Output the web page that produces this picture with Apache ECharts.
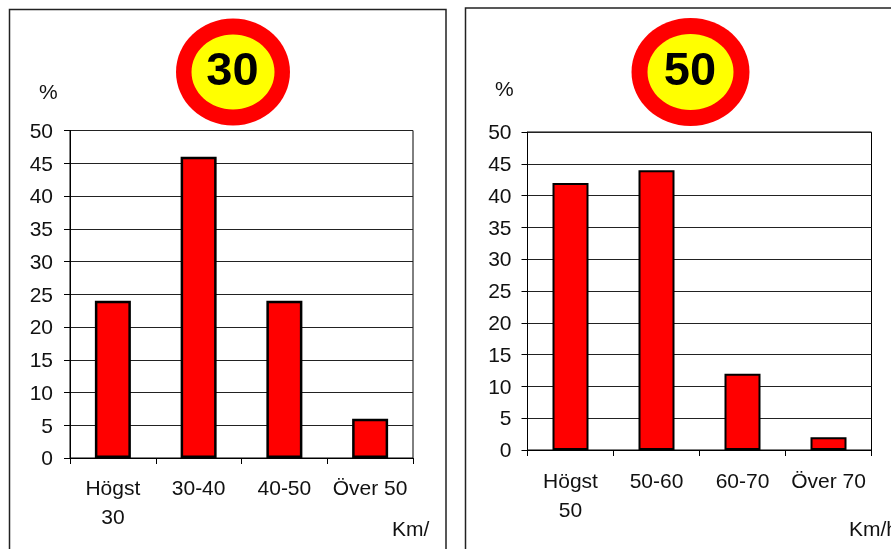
<!DOCTYPE html>
<html>
<head>
<meta charset="utf-8">
<style>html,body{margin:0;padding:0;background:#fff}#chart{width:891px;height:549px}</style>
<script src="https://cdn.jsdelivr.net/npm/echarts@6/dist/echarts.min.js"></script>
</head>
<body>
<div id="chart"></div>
<script>
// Speed distribution on 30 and 50 km/h streets
const categories30 = ['Högst\n30', '30-40', '40-50', 'Över 50'];
const values30 = [24, 46, 24, 6];
const categories50 = ['Högst\n50', '50-60', '60-70', 'Över 70'];
const values50 = [42, 44, 12, 2];
const FONT = '"Liberation Sans", Arial, sans-serif';
const FS = 21;

function sign(cx, cy, rx, ry, irx, iry, label) {
  return [
    { type: 'ellipse', shape: { cx, cy, rx, ry }, style: { fill: '#ff0000' } },
    { type: 'ellipse', shape: { cx, cy, rx: irx, ry: iry }, style: { fill: '#ffff00' } },
    { type: 'text', x: cx - 0.5, y: cy, style: { text: label, font: 'bold 47px ' + FONT, fill: '#000', align: 'center', verticalAlign: 'middle' } }
  ];
}
function note(x, y, text) {
  return { type: 'text', x, y, style: { text, font: '21px ' + FONT, fill: '#111', align: 'left', verticalAlign: 'middle' } };
}
function panel(x, y, w, h) {
  return { type: 'rect', shape: { x, y, width: w, height: h }, style: { fill: 'none', stroke: '#222', lineWidth: 1.5 } };
}
function xAxis(gridIndex, data, margin) {
  return {
    type: 'category', gridIndex, data,
    axisLine: { lineStyle: { color: '#000', width: 1 } },
    axisTick: { show: true, length: 6, alignWithLabel: false, lineStyle: { color: '#000' } },
    axisLabel: { color: '#111', fontFamily: FONT, fontSize: FS, margin, lineHeight: 28.5, interval: 0 }
  };
}
function yAxis(gridIndex, margin) {
  return {
    type: 'value', gridIndex, min: 0, max: 50, interval: 5,
    axisLine: { show: true, lineStyle: { color: '#000', width: 1 } },
    axisTick: { show: true, length: 6, lineStyle: { color: '#000' } },
    axisLabel: {
      margin,
      formatter: '{tick|{value}}',
      rich: { tick: { color: '#111', fontFamily: FONT, fontSize: FS, padding: [3, 0, 0, 0] } }
    },
    splitLine: { show: true, lineStyle: { color: '#222', width: 1 } }
  };
}
function bars(index, data, bw) {
  return {
    type: 'bar', xAxisIndex: index, yAxisIndex: index, data, barWidth: 36, silent: true,
    itemStyle: { color: '#ff0000', borderColor: '#000', borderWidth: bw }
  };
}

const chart = echarts.init(document.getElementById('chart'), null, { renderer: 'canvas' });
chart.setOption({
  animation: false,
  backgroundColor: '#fff',
  grid: [
    { left: 70, top: 130.5, width: 343, height: 327.5, show: true, borderColor: '#000', borderWidth: 1, backgroundColor: 'transparent' },
    { left: 527.5, top: 132, width: 344, height: 318, show: true, borderColor: '#000', borderWidth: 1, backgroundColor: 'transparent' }
  ],
  xAxis: [xAxis(0, categories30, 17), xAxis(1, categories50, 18)],
  yAxis: [yAxis(0, 17), yAxis(1, 16)],
  series: [bars(0, values30, 2.5), bars(1, values50, 2)],
  graphic: [
    panel(9.5, 9.5, 436.5, 560),
    panel(465.5, 8, 440, 560),
    ...sign(233, 72, 57, 53.5, 41.5, 37.5, '30'),
    ...sign(690.5, 72, 59, 54, 43, 38, '50'),
    note(39, 93, '%'),
    note(495, 90, '%'),
    note(392, 530, 'Km/'),
    note(849, 530, 'Km/h')
  ]
});
</script>
</body>
</html>
